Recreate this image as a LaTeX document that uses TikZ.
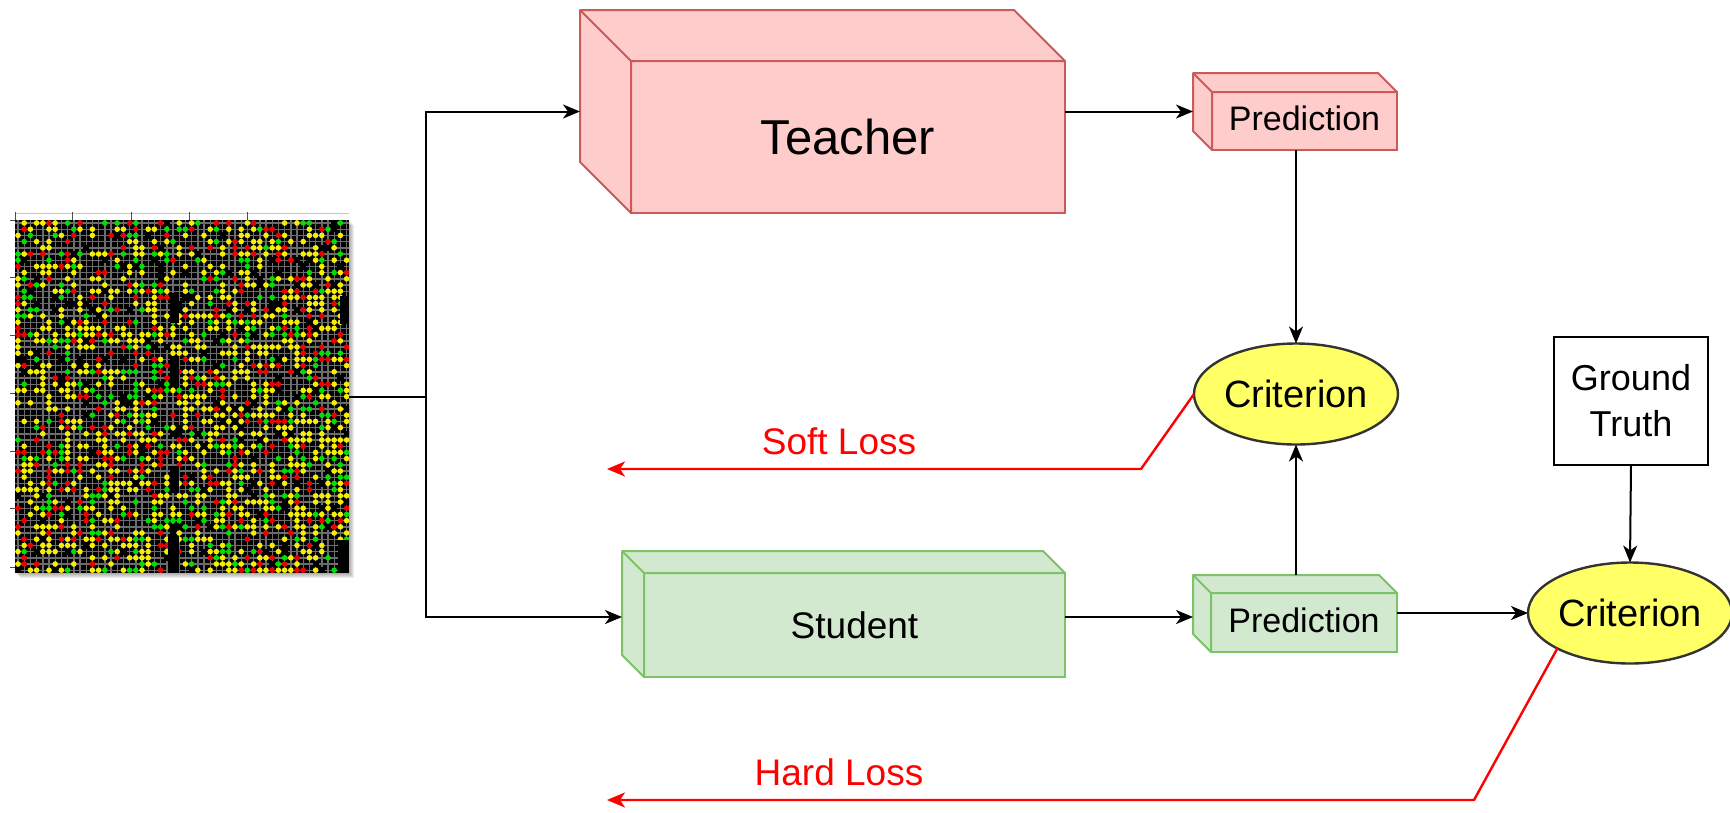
\documentclass[tikz,border=0pt]{standalone}
\usepackage{fontspec}
\setmainfont{Liberation Sans}
\usetikzlibrary{arrows.meta,shapes.geometric,calc}

\definecolor{tfill}{HTML}{FFCCCC}
\definecolor{tline}{HTML}{CC5A5A}
\definecolor{sfill}{HTML}{D2E9D0}
\definecolor{sline}{HTML}{7CC266}
\definecolor{cfill}{HTML}{FFFF66}
\definecolor{cline}{HTML}{333333}
\definecolor{lossred}{HTML}{FF0000}
\definecolor{meshgray}{HTML}{6C6C6C}
\definecolor{dotY}{HTML}{F5EE00}
\definecolor{dotR}{HTML}{EE0000}
\definecolor{dotG}{HTML}{00DD00}

% left and top faces of a box drawn behind the named front face
\newcommand\cubesides[3]{%
  \filldraw[#3] (#1.south west) -- ++(-#2,-#2)
    -- ($(#1.north west)+(-#2,-#2)$) -- ($(#1.north east)+(-#2,-#2)$)
    -- (#1.north east) -- (#1.north west) -- cycle;
  \draw[#3] (#1.north west) -- ++(-#2,-#2);
}

\tikzset{
  tbox/.style={draw=tline, fill=tfill, line width=2pt, inner sep=0pt, outer sep=0pt, anchor=north west},
  tside/.style={draw=tline, fill=tfill, line width=2pt, line join=round},
  sbox/.style={draw=sline, fill=sfill, line width=2pt, inner sep=0pt, outer sep=0pt, anchor=north west},
  sside/.style={draw=sline, fill=sfill, line width=2pt, line join=round},
  crit/.style={ellipse, draw=cline, fill=cfill, line width=2.4pt, minimum width=204, minimum height=101,
    inner sep=0pt, outer sep=0pt, font=\fontsize{38}{44}\selectfont},
  gtbox/.style={draw=black, line width=2pt, minimum width=154, minimum height=128, inner sep=0pt,
    outer sep=0pt, align=center, font=\fontsize{36}{46}\selectfont},
  link/.style={draw=black, line width=2pt, -{Stealth[length=17pt,width=14pt,inset=5pt]}},
  plainlink/.style={draw=black, line width=2pt},
  losslink/.style={draw=lossred, line width=2.4pt, line join=round, -{Stealth[length=18pt,width=15pt,inset=5pt]}},
  losstext/.style={text=lossred, font=\fontsize{37}{44}\selectfont},
}

\begin{document}
\begin{tikzpicture}[x=1pt,y=-1pt]
\useasboundingbox (0,0) rectangle (1730,812);
\fill[white] (0,0) rectangle (1730,812);

% ---------- input grid picture ----------
\foreach \k in {1,...,5}
  \fill[black, opacity=0.07] (15+\k,220+\k) rectangle (349+\k,573+\k);
\draw[gray!45, line width=0.8pt] (15,213) -- (349,213);
\foreach \tx in {15,72,131,189,247}
  \draw[black!70, line width=1pt] (\tx,212) -- (\tx,220);
\foreach \ty in {220,277,335,393,451,508,567}
  \draw[black!70, line width=1pt] (10,\ty) -- (15,\ty);
\node[draw=none, fill=black, inner sep=0pt, outer sep=0pt, minimum width=334, minimum height=353, anchor=north west]
  (img) at (15,220) {};
\begin{scope}
  \clip (15,220) rectangle (349,573);
  \foreach \i in {0,...,53}
    \draw[meshgray, line width=1.4pt] (18+\i*6.2,220) -- (18+\i*6.2,573);
  \foreach \j in {0,...,56}
    \draw[meshgray, line width=1.4pt] (15,223+\j*6.2) -- (349,223+\j*6.2);
  \pgfmathsetseed{271}
  \foreach \i in {0,...,53}{
    \foreach \j in {0,...,56}{
      \pgfmathrandominteger{\rnd}{1}{100}
      \ifnum\rnd<27
        \fill[dotY] (18+\i*6.2,223+\j*6.2) circle (2.8);
      \else\ifnum\rnd<37
        \fill[dotR] (18+\i*6.2,223+\j*6.2) circle (2.8);
      \else\ifnum\rnd<47
        \fill[dotG] (18+\i*6.2,223+\j*6.2) circle (2.8);
      \else\ifnum\rnd>95
        \fill[black] (15+\i*6.2,220+\j*6.2) rectangle ++(6.2,6.2);
      \fi\fi\fi\fi
    }
  }
  % empty regions of the map
  \fill[black] (170,293) rectangle (179,323);
  \fill[black] (170,356) rectangle (179,387);
  \fill[black] (170,466) rectangle (179,493);
  \fill[black] (168,536) rectangle (179,573);
  \fill[black] (340,296) rectangle (349,324);
  \fill[black] (338,540) rectangle (349,573);
\end{scope}

% ---------- teacher and student ----------
\node[tbox, minimum width=434, minimum height=152, font=\fontsize{49}{58}\selectfont]
  (teacher) at (631,61) {Teacher};
\cubesides{teacher}{51}{tside}
\node[tbox, minimum width=185, minimum height=58, font=\fontsize{34}{40}\selectfont]
  (tpred) at (1212,92) {\raisebox{6pt}{Prediction}};
\cubesides{tpred}{19}{tside}

\node[sbox, minimum width=421, minimum height=104, font=\fontsize{37}{44}\selectfont]
  (student) at (644,573) {Student};
\cubesides{student}{22}{sside}
\node[sbox, minimum width=186, minimum height=59, font=\fontsize{34}{40}\selectfont]
  (spred) at (1211,593) {\raisebox{5pt}{Prediction}};
\cubesides{spred}{18}{sside}

% ---------- criteria and ground truth ----------
\node[crit] (crit1) at (1296,394) {Criterion};
\node[crit] (crit2) at (1630,613) {Criterion};
\node[gtbox] (gt) at (1631,401) {Ground\\Truth};

% ---------- reference points ----------
\coordinate (teacher-in) at ($(teacher.west)+(-51,-25.5)$);
\coordinate (student-in) at ($(student.west)+(-22,-8)$);
\coordinate (tpred-in) at ($(tpred.west)+(-19,-9.5)$);
\coordinate (spred-in) at ($(spred.west)+(-18,-5.5)$);
\coordinate (spred-top) at ($(spred.north)+(-9,-18)$);
\coordinate (split) at ($(img.east)+(77,0)$);
\coordinate (softbend) at (1141,469);
\coordinate (softend) at (607,469);
\coordinate (hardbend) at (1474,800);
\coordinate (hardend) at (607,800);

% ---------- connectors ----------
\draw[plainlink] (img.east) -- (split);
\draw[link] (split) |- (teacher-in);
\draw[link] (split) |- (student-in);
\draw[link] (tpred-in -| teacher.east) -- (tpred-in);
\draw[link] (spred-in -| student.east) -- (spred-in);
\draw[link] (crit1.north |- tpred.south) -- (crit1.north);
\draw[link] (crit1.south |- spred-top) -- (crit1.south);
\draw[link] (crit2.west -| spred.east) -- (crit2.west);
\draw[link] (gt.south) -- (crit2.north);

% ---------- losses ----------
\draw[losslink] (crit1.west) -- (softbend) -- (softend);
\node[losstext] (softlabel) at (839,441) {Soft Loss};
\draw[losslink] (crit2.206) -- (hardbend) -- (hardend);
\node[losstext] (hardlabel) at (839,772) {Hard Loss};
\end{tikzpicture}
\end{document}
